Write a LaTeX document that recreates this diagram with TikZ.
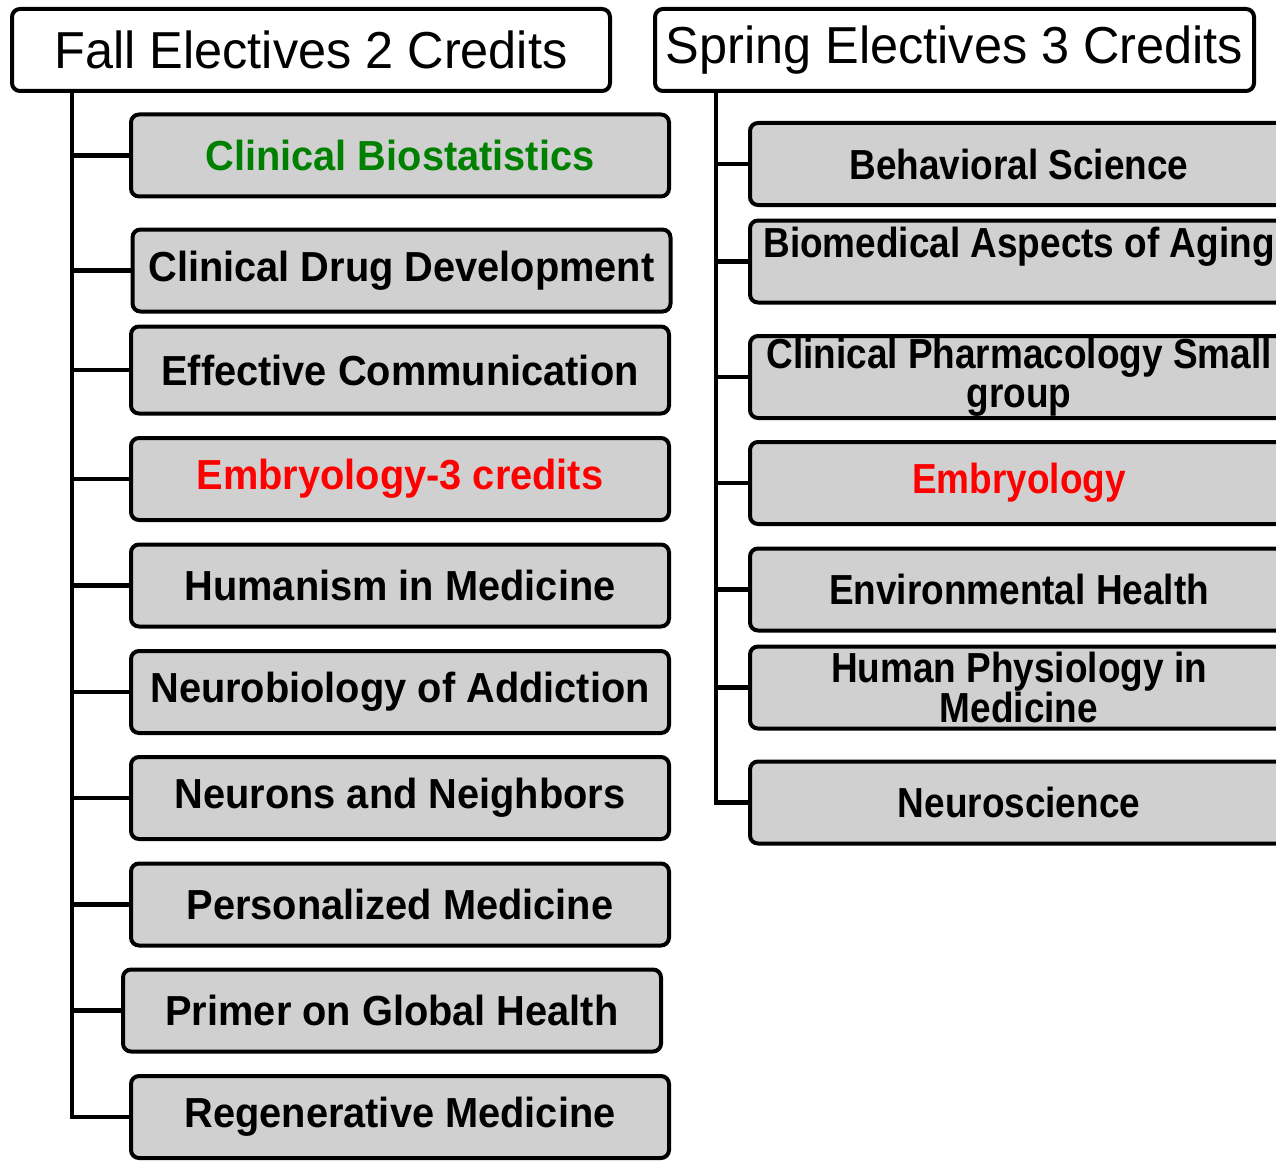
\documentclass[tikz,border=0pt]{standalone}
\usepackage{fontspec}
\setmainfont{Liberation Sans}
\newfontfamily\hdrfont[FakeStretch=0.97]{Liberation Sans}
\newfontfamily\boxfont[FakeStretch=0.947]{Liberation Sans}
\newfontfamily\rboxfont[FakeStretch=0.88]{Liberation Sans}
\definecolor{boxgray}{RGB}{208,208,208}
\definecolor{ggreen}{RGB}{0,128,0}
\definecolor{rred}{RGB}{255,0,0}
\tikzset{
  hdrbox/.style={draw=black, line width=4pt, fill=white, rounded corners=8pt,
    minimum width=598pt, minimum height=82pt, inner sep=0pt,
    font=\hdrfont\fontsize{52}{52}\selectfont},
  itembox/.style={draw=black, line width=4pt, fill=boxgray, rounded corners=8pt,
    minimum width=538pt, minimum height=82pt, inner sep=0pt, align=center,
    font=\boxfont\bfseries\fontsize{42}{39}\selectfont},
  ritembox/.style={itembox, font=\rboxfont\bfseries\fontsize{42}{39}\selectfont},
  link/.style={draw=black, line width=4.5pt},
}
\begin{document}
\begin{tikzpicture}[x=1pt,y=-1pt]
\useasboundingbox (0,0) rectangle (1276,1161);
\clip (0,0) rectangle (1276,1161);
% headers
\node[hdrbox] (fall) at (311,50) {Fall Electives 2 Credits};
\node[hdrbox, minimum width=599pt] (spring) at (954.5,50) {Spring Electives 3 Credits};
% left column
\node[itembox, text=ggreen] (l1) at (400,155.5) {Clinical Biostatistics};
\node[itembox] (l2) at (401.5,270.5) {Clinical Drug Development};
\node[itembox, minimum height=87pt] (l3) at (400,370) {Effective Communication};
\node[itembox, text=rred] (l4) at (400,479) {Embryology-3 credits};
\node[itembox] (l5) at (400,585.5) {Humanism in Medicine};
\node[itembox] (l6) at (400,692) {Neurobiology of Addiction};
\node[itembox] (l7) at (400,798) {Neurons and Neighbors};
\node[itembox] (l8) at (400,904.5) {Personalized Medicine};
\node[itembox] (l9) at (392,1010.5) {Primer on Global Health};
\node[itembox] (l10) at (400,1117) {Regenerative Medicine};
% right column
\node[ritembox] (r1) at (1019,164) {Behavioral Science};
\node[ritembox] (r2) at (1019,261.5) {Biomedical Aspects of Aging\\ \mbox{}};
\node[ritembox] (r3) at (1019,377) {Clinical Pharmacology Small\\group};
\node[ritembox, text=rred] (r4) at (1019,483) {Embryology};
\node[ritembox] (r5) at (1019,589.5) {Environmental Health};
\node[ritembox] (r6) at (1019,687.5) {Human Physiology in\\Medicine};
\node[ritembox] (r7) at (1019,802.5) {Neuroscience};
% trunks
\coordinate (lt) at (72,0);
\coordinate (rt) at (716,0);
\draw[link] (lt |- fall.south) |- (l10.west);
\foreach \i in {1,...,9} \draw[link] (lt |- l\i.west) -- (l\i.west);
\draw[link] (rt |- spring.south) |- (r7.west);
\foreach \i in {1,...,6} \draw[link] (rt |- r\i.west) -- (r\i.west);
\end{tikzpicture}
\end{document}
